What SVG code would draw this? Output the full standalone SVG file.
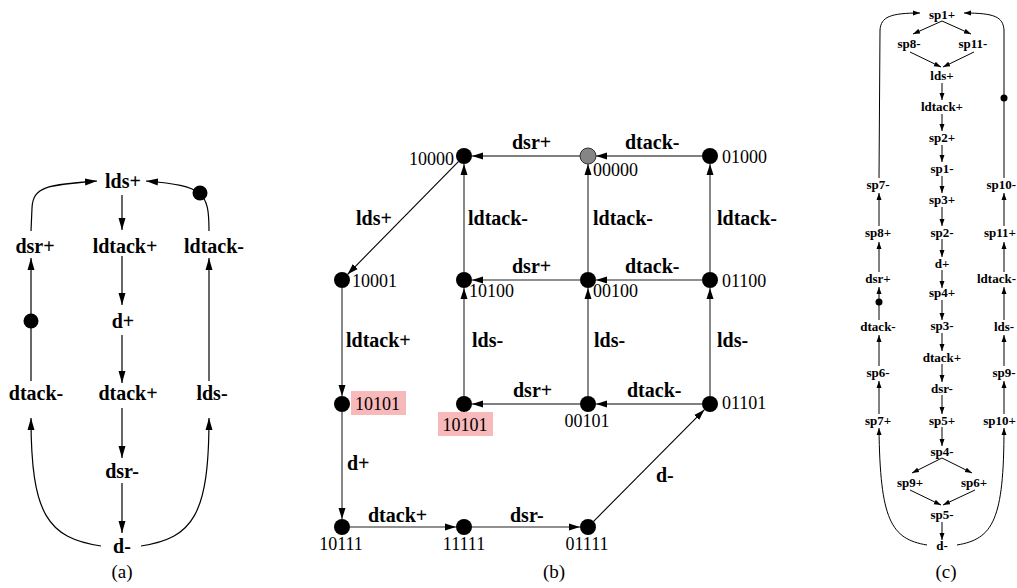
<svg xmlns="http://www.w3.org/2000/svg" width="1017" height="588" viewBox="0 0 1017 588">
<style>
.big{font-family:"Liberation Serif",serif;font-weight:bold;font-size:20px;text-anchor:middle;fill:#000}
.bl{font-family:"Liberation Serif",serif;font-weight:bold;font-size:20px;fill:#000}
.sm{font-family:"Liberation Serif",serif;font-weight:bold;font-size:13px;text-anchor:middle;fill:#000}
.sme{font-family:"Liberation Serif",serif;font-weight:bold;font-size:13px;text-anchor:end;fill:#000}
.st{font-family:"Liberation Serif",serif;font-size:18px;fill:#000}
.stm{font-family:"Liberation Serif",serif;font-size:18px;fill:#000;text-anchor:middle}
.cap{font-family:"Liberation Serif",serif;font-size:19px;text-anchor:middle;fill:#000}
.ea{fill:none;stroke:#000;stroke-width:1.2;marker-end:url(#ma)}
.ec{fill:none;stroke:#000;stroke-width:1;marker-end:url(#mc)}
.eb{fill:none;stroke:#000;stroke-width:1.1;marker-end:url(#mb)}
.eg{fill:none;stroke:#6a6a6a;stroke-width:1.6;marker-end:url(#mb)}
.dot{fill:#000}
.hl{fill:#f7b9b9}
</style>
<defs>
<marker id="ma" markerWidth="13" markerHeight="8" refX="12" refY="4" orient="auto" markerUnits="userSpaceOnUse"><path d="M0,0.5 L12,4 L0,7.5 z" fill="#000"/></marker>
<marker id="mb" markerWidth="12" markerHeight="8" refX="11" refY="4" orient="auto" markerUnits="userSpaceOnUse"><path d="M0,0.5 L11,4 L0,7.5 z" fill="#000"/></marker>
<marker id="mc" markerWidth="8" markerHeight="6" refX="7" refY="3" orient="auto" markerUnits="userSpaceOnUse"><path d="M0,0.5 L7,3 L0,5.5 z" fill="#000"/></marker>
</defs>

<!-- (a) -->
<g id="a-connectors">
<path class="ea" d="M122,195 L122,230"/>
<path class="ea" d="M122,256 L122,305"/>
<path class="ea" d="M122,335 L122,383"/>
<path class="ea" d="M122,408 L122,458"/>
<path class="ea" d="M122,483 L122,533"/>
<path class="ea" d="M101,546 C48,538 31,515 31,418"/>
<path class="ea" d="M31,381 L31,258"/>
<path class="ea" d="M31,231 L32,208 C33,186 48,185 97,181"/>
<path class="ea" d="M141,546 C193,538 209,515 209,418"/>
<path class="ea" d="M209,381 L209,258"/>
<path class="ea" d="M209,231 C209,192 204,186 146,181"/>
<circle class="dot" cx="31" cy="321" r="7.5"/>
<circle class="dot" cx="200" cy="193" r="7.5"/>
</g>
<g id="a-lds-plus"><text class="big" x="123" y="188">lds+</text></g>
<g id="a-dsr-plus"><text class="big" x="35" y="253">dsr+</text></g>
<g id="a-ldtack-plus"><text class="big" x="125" y="253">ldtack+</text></g>
<g id="a-ldtack-minus"><text class="big" x="214" y="253">ldtack-</text></g>
<g id="a-d-plus"><text class="big" x="123" y="328">d+</text></g>
<g id="a-dtack-minus"><text class="big" x="36" y="400">dtack-</text></g>
<g id="a-dtack-plus"><text class="big" x="128" y="400">dtack+</text></g>
<g id="a-lds-minus"><text class="big" x="212" y="400">lds-</text></g>
<g id="a-dsr-minus"><text class="big" x="122" y="478">dsr-</text></g>
<g id="a-d-minus"><text class="big" x="122" y="553">d-</text></g>
<text class="cap" x="122" y="578">(a)</text>

<!-- (b) -->
<g id="b-connectors">
<path class="eb" d="M580,156 L472,156"/>
<path class="eb" d="M702,156 L596,156"/>
<path class="eb" d="M458.4,161.7 L347.6,274.3"/>
<path class="eg" d="M464,272 L464,164"/>
<path class="eg" d="M588,272 L588,164"/>
<path class="eg" d="M710,272 L710,164"/>
<path class="eg" d="M580,280 L472,280"/>
<path class="eg" d="M702,280 L596,280"/>
<path class="eg" d="M342,288 L342,396"/>
<path class="eg" d="M464,396 L464,288"/>
<path class="eg" d="M588,396 L588,288"/>
<path class="eg" d="M710,396 L710,288"/>
<path class="eb" d="M580,404 L472,404"/>
<path class="eb" d="M702,404 L596,404"/>
<path class="eg" d="M342,412 L342,519"/>
<path class="eg" d="M350,527 L456,527"/>
<path class="eg" d="M472,527 L580,527"/>
<path class="eb" d="M593.6,521.3 L704.4,409.7"/>
<text class="bl" x="512" y="149">dsr+</text>
<text class="bl" x="625" y="149">dtack-</text>
<text class="bl" x="356" y="225">lds+</text>
<text class="bl" x="468" y="225">ldtack-</text>
<text class="bl" x="593" y="225">ldtack-</text>
<text class="bl" x="717" y="225">ldtack-</text>
<text class="bl" x="512" y="273">dsr+</text>
<text class="bl" x="625" y="273">dtack-</text>
<text class="bl" x="346" y="347">ldtack+</text>
<text class="bl" x="472" y="347">lds-</text>
<text class="bl" x="594" y="347">lds-</text>
<text class="bl" x="717" y="347">lds-</text>
<text class="bl" x="513" y="397">dsr+</text>
<text class="bl" x="627" y="397">dtack-</text>
<text class="bl" x="347" y="470">d+</text>
<text class="bl" x="656" y="482">d-</text>
<text class="bl" x="368" y="522">dtack+</text>
<text class="bl" x="510" y="522">dsr-</text>
</g>
<g id="b-10000"><circle class="dot" cx="464" cy="156" r="8"/><text class="st" x="454" y="165" text-anchor="end">10000</text></g>
<g id="b-00000"><circle cx="588" cy="156" r="8" fill="#858585" stroke="#333" stroke-width="1"/><text class="st" x="593" y="176">00000</text></g>
<g id="b-01000"><circle class="dot" cx="710" cy="156" r="8"/><text class="st" x="722" y="163">01000</text></g>
<g id="b-10001"><circle class="dot" cx="342" cy="280" r="8"/><text class="st" x="352" y="287">10001</text></g>
<g id="b-10100"><circle class="dot" cx="464" cy="280" r="8"/><text class="st" x="469" y="297">10100</text></g>
<g id="b-00100"><circle class="dot" cx="588" cy="280" r="8"/><text class="st" x="593" y="297">00100</text></g>
<g id="b-01100"><circle class="dot" cx="710" cy="280" r="8"/><text class="st" x="722" y="287">01100</text></g>
<g id="b-10101-left"><rect class="hl" x="351" y="391" width="55" height="24"/><circle class="dot" cx="342" cy="404" r="8"/><text class="st" x="355" y="410">10101</text></g>
<g id="b-10101-mid"><rect class="hl" x="438" y="412" width="55" height="24"/><circle class="dot" cx="464" cy="404" r="8"/><text class="stm" x="465" y="431">10101</text></g>
<g id="b-00101"><circle class="dot" cx="588" cy="404" r="8"/><text class="stm" x="587" y="427">00101</text></g>
<g id="b-01101"><circle class="dot" cx="710" cy="404" r="8"/><text class="st" x="722" y="409">01101</text></g>
<g id="b-10111"><circle class="dot" cx="342" cy="527" r="8"/><text class="stm" x="341" y="550">10111</text></g>
<g id="b-11111"><circle class="dot" cx="464" cy="527" r="8"/><text class="stm" x="464" y="550">11111</text></g>
<g id="b-01111"><circle class="dot" cx="588" cy="527" r="8"/><text class="stm" x="587" y="550">01111</text></g>
<text class="cap" x="554" y="578">(b)</text>

<!-- (c) -->
<g id="c-connectors">
<path class="ec" d="M942,21 L913,34"/>
<path class="ec" d="M942,21 L971,34"/>
<path class="ec" d="M910,52 L941,67"/>
<path class="ec" d="M974,52 L943,67"/>
<path class="ec" d="M942,83 L942,100"/>
<path class="ec" d="M942,114 L942,131"/>
<path class="ec" d="M942,145 L942,162"/>
<path class="ec" d="M942,176 L942,193"/>
<path class="ec" d="M942,207 L942,226"/>
<path class="ec" d="M942,239 L942,257"/>
<path class="ec" d="M942,270 L942,288"/>
<path class="ec" d="M942,300 L942,320"/>
<path class="ec" d="M942,333 L942,351"/>
<path class="ec" d="M942,364 L942,382"/>
<path class="ec" d="M942,395 L942,414"/>
<path class="ec" d="M942,427 L942,446"/>
<path class="ec" d="M942,458 L912,473"/>
<path class="ec" d="M942,458 L972,473"/>
<path class="ec" d="M910,490 L941,505"/>
<path class="ec" d="M975,490 L943,505"/>
<path class="ec" d="M942,522 L942,540"/>
<path class="ec" d="M927,545 C891,539 880,520 879,428"/>
<path class="ec" d="M879,414 L879,381"/>
<path class="ec" d="M879,366 L879,335"/>
<path class="ec" d="M879,320 L879,287"/>
<path class="ec" d="M879,272 L879,242"/>
<path class="ec" d="M879,226 L879,193"/>
<path class="ec" d="M879,178 L880,30 C881,17 890,13 920,13"/>
<path class="ec" d="M957,545 C993,539 1004,520 1004,428"/>
<path class="ec" d="M1004,414 L1004,381"/>
<path class="ec" d="M1004,366 L1004,335"/>
<path class="ec" d="M1004,320 L1004,287"/>
<path class="ec" d="M1004,272 L1004,242"/>
<path class="ec" d="M1004,226 L1004,193"/>
<path class="ec" d="M1004,178 L1004,30 C1003,17 995,13 964,13"/>
<circle class="dot" cx="879" cy="302" r="3.5"/>
<circle class="dot" cx="1004" cy="98" r="3.5"/>
</g>
<g id="c-sp1p"><text class="sm" x="942" y="19">sp1+</text></g>
<g id="c-sp8m"><text class="sm" x="909" y="48">sp8-</text></g>
<g id="c-sp11m"><text class="sm" x="973" y="48">sp11-</text></g>
<g id="c-ldsp"><text class="sm" x="942" y="80">lds+</text></g>
<g id="c-ldtackp"><text class="sm" x="942" y="111">ldtack+</text></g>
<g id="c-sp2p"><text class="sm" x="942" y="142">sp2+</text></g>
<g id="c-sp1m"><text class="sm" x="942" y="173">sp1-</text></g>
<g id="c-sp7m"><text class="sm" x="878" y="189">sp7-</text></g>
<g id="c-sp10m"><text class="sme" x="1016" y="189">sp10-</text></g>
<g id="c-sp3p"><text class="sm" x="942" y="204">sp3+</text></g>
<g id="c-sp8p"><text class="sm" x="878" y="237">sp8+</text></g>
<g id="c-sp2m"><text class="sm" x="942" y="237">sp2-</text></g>
<g id="c-sp11p"><text class="sme" x="1016" y="237">sp11+</text></g>
<g id="c-dp"><text class="sm" x="942" y="268">d+</text></g>
<g id="c-dsrp"><text class="sm" x="878" y="283">dsr+</text></g>
<g id="c-ldtackm"><text class="sme" x="1016" y="283">ldtack-</text></g>
<g id="c-sp4p"><text class="sm" x="942" y="297">sp4+</text></g>
<g id="c-dtackm"><text class="sm" x="878" y="331">dtack-</text></g>
<g id="c-sp3m"><text class="sm" x="942" y="330">sp3-</text></g>
<g id="c-ldsm"><text class="sm" x="1004" y="331">lds-</text></g>
<g id="c-dtackp"><text class="sm" x="942" y="362">dtack+</text></g>
<g id="c-sp6m"><text class="sm" x="878" y="377">sp6-</text></g>
<g id="c-sp9m"><text class="sm" x="1004" y="377">sp9-</text></g>
<g id="c-dsrm"><text class="sm" x="942" y="393">dsr-</text></g>
<g id="c-sp7p"><text class="sm" x="878" y="425">sp7+</text></g>
<g id="c-sp5p"><text class="sm" x="942" y="425">sp5+</text></g>
<g id="c-sp10p"><text class="sme" x="1016" y="425">sp10+</text></g>
<g id="c-sp4m"><text class="sm" x="942" y="456">sp4-</text></g>
<g id="c-sp9p"><text class="sm" x="910" y="487">sp9+</text></g>
<g id="c-sp6p"><text class="sm" x="974" y="487">sp6+</text></g>
<g id="c-sp5m"><text class="sm" x="942" y="519">sp5-</text></g>
<g id="c-dm"><text class="sm" x="942" y="550">d-</text></g>
<text class="cap" x="946" y="578">(c)</text>
</svg>
